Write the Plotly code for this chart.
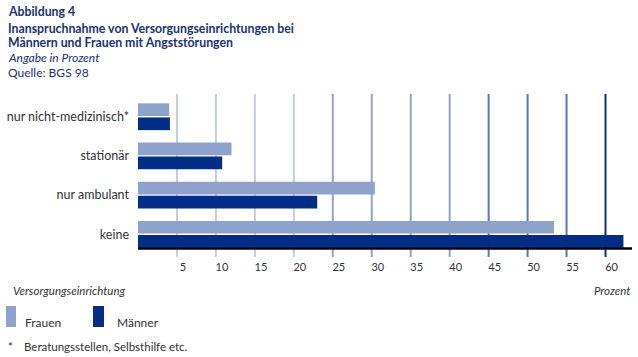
import plotly.graph_objects as go

# ---- data ----
categories = ["keine", "nur ambulant", "stationär", "nur nicht-medizinisch*"]
frauen = [53.4, 30.4, 12.0, 4.0]
maenner = [62.3, 23.0, 10.8, 4.1]
tick_values = [5, 10, 15, 20, 25, 30, 35, 40, 45, 50, 55, 60]
tick_labels = ["5", "10", "15", "20", "25", "30", "35", "40", "45", "50", "55", "60"]

# ---- style ----
C_FRAUEN = "#8fa2cc"
C_MAENNER = "#002d85"
C_TITLE = "#1b3372"
grid_colors = ["#c2cde5"] * 4 + ["#8fa2cc"] * 4 + ["#5b77b5"] * 3 + ["#0b2f87"]
FONT = "Lato"

W, H = 638, 357
L, R, T, B = 138, 6, 94, 109
pw, ph = W - L - R, H - T - B


def px(x):
    return (x - L) / pw


def py(y):
    return (H - B - y) / ph


fig = go.Figure()
fig.add_trace(go.Bar(y=categories, x=maenner, orientation="h", name="Männer",
                     marker=dict(color=C_MAENNER, line=dict(width=0))))
fig.add_trace(go.Bar(y=categories, x=frauen, orientation="h", name="Frauen",
                     marker=dict(color=C_FRAUEN, line=dict(width=0))))

shapes = []
for v, c in zip(tick_values, grid_colors):
    shapes.append(dict(type="line", xref="x", yref="paper", x0=v, x1=v,
                       y0=py(257), y1=1, line=dict(color=c, width=2), layer="below"))
shapes.append(dict(type="line", xref="paper", yref="paper", x0=0, x1=1, y0=py(248.5), y1=py(248.5),
                   line=dict(color="black", width=2.5), layer="above"))
# legend swatches
shapes.append(dict(type="rect", xref="paper", yref="paper", x0=px(6), x1=px(16), y0=py(327), y1=py(306),
                   fillcolor=C_FRAUEN, line=dict(width=0)))
shapes.append(dict(type="rect", xref="paper", yref="paper", x0=px(93), x1=px(104), y0=py(327), y1=py(306),
                   fillcolor=C_MAENNER, line=dict(width=0)))

ann = []


def text(x, y, s, size=12, color="#333", bold=False, italic=False, anchor="left"):
    t = s
    if bold:
        t = "<b>" + t + "</b>"
    if italic:
        t = "<i>" + t + "</i>"
    ann.append(dict(xref="paper", yref="paper", x=px(x), y=py(y), text=t, showarrow=False,
                    xanchor=anchor, yanchor="middle", font=dict(family=FONT, size=size, color=color)))


text(6, 12, "Abbildung 4", 12.3, C_TITLE, bold=True)
text(6, 28, "Inanspruchnahme von Versorgungseinrichtungen bei", 12.3, C_TITLE, bold=True)
text(6, 43, "Männern und Frauen mit Angststörungen", 12.3, C_TITLE, bold=True)
text(6, 58, "Angabe in Prozent", 12, C_TITLE, italic=True)
text(6, 72, "Quelle: BGS 98", 12, C_TITLE)
text(11, 290, "Versorgungseinrichtung", 11.5, italic=True)
text(632, 290, "Prozent", 11.5, italic=True, anchor="right")
text(23, 322, "Frauen", 12)
text(115, 322, "Männer", 12)
text(6, 346, "*", 11.5)
text(22, 346, "Beratungsstellen, Selbsthilfe etc.", 11.5)

fig.update_layout(
    width=W, height=H,
    margin=dict(l=L, r=R, t=T, b=B, pad=0),
    paper_bgcolor="white", plot_bgcolor="white",
    barmode="group", bargap=0.28, bargroupgap=0.1,
    showlegend=False,
    shapes=shapes, annotations=ann,
    font=dict(family=FONT, size=12, color="#333"),
    xaxis=dict(range=[0, 63.4], tickvals=tick_values, ticktext=tick_labels, showgrid=False,
               zeroline=False, showline=False, ticks="", ticklabelshift=6, ticklabelstandoff=11,
               tickfont=dict(family=FONT, size=11, color="#333")),
    yaxis=dict(range=[-0.35, 3.58], categoryorder="array", categoryarray=categories,
               showgrid=False, zeroline=False, showline=False, ticks="", ticklabelstandoff=8,
               tickfont=dict(family=FONT, size=12.5, color="#333")),
)

fig.write_html("out.html", config={"displayModeBar": False},
               post_script="document.body.style.margin='0px';document.body.style.overflow='hidden';")
